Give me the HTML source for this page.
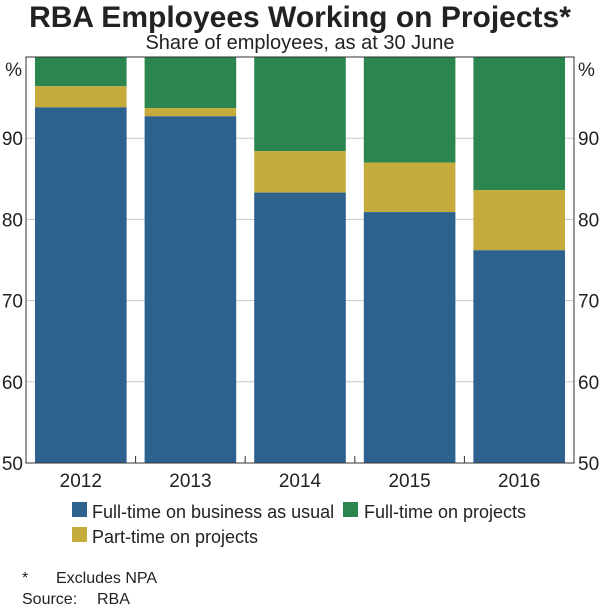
<!DOCTYPE html>
<html><head><meta charset="utf-8"><style>
body{margin:0;background:#fff;font-family:"Liberation Sans",Arial,sans-serif;}
svg text{font-family:"Liberation Sans",Arial,sans-serif;fill:#222;}
</style></head><body>
<svg id="c" width="600" height="606" xmlns="http://www.w3.org/2000/svg">
<text x="300" y="27" text-anchor="middle" font-size="30" font-weight="bold">RBA Employees Working on Projects*</text>
<text x="300" y="49" text-anchor="middle" font-size="20">Share of employees, as at 30 June</text>
<g id="grid"></g><g id="bars"></g><g id="axes"></g>
<g>
<rect x="72" y="502" width="15" height="15" fill="#2d628f"/>
<text x="92" y="518" font-size="18">Full-time on business as usual</text>
<rect x="343" y="502" width="15" height="15" fill="#2a864e"/>
<text x="364" y="518" font-size="18">Full-time on projects</text>
<rect x="72" y="527" width="15" height="15" fill="#c4ab3c"/>
<text x="92" y="543" font-size="18">Part-time on projects</text>
</g>
<text x="22" y="583" font-size="16">*</text>
<text x="56" y="583" font-size="16">Excludes NPA</text>
<text x="22" y="604" font-size="16">Source:</text>
<text x="97" y="604" font-size="16">RBA</text>
</svg>
<script>
const categories=["2012","2013","2014","2015","2016"];
const fullTimeBAU=[93.8,92.7,83.3,80.9,76.2];
const partTimeProjects=[2.6,1.0,5.1,6.1,7.4];
const yTicks=[50,60,70,80,90];
const L=26,R=574,T=57,B=463,yMin=50,yMax=100;
const NS="http://www.w3.org/2000/svg";
const y=v=>B-(v-yMin)/(yMax-yMin)*(B-T);
const bw=(R-L)/categories.length;
const x=i=>L+i*bw;
function mk(p,t,a){const e=document.createElementNS(NS,t);for(const k in a)e.setAttribute(k,a[k]);document.getElementById(p).appendChild(e);return e;}
yTicks.forEach(v=>{if(v>yMin){const g=mk('grid','line',{x1:L,x2:R,y1:y(v),y2:y(v),stroke:'#c8c8c8','stroke-width':1});

}
const a=mk('axes','text',{x:L-3,y:y(v)+7,'text-anchor':'end','font-size':19});a.textContent=v;


const b=mk('axes','text',{x:R+4,y:y(v)+7,'font-size':19});b.textContent=v;

});
const p1=mk('axes','text',{x:L-4,y:T+19,'text-anchor':'end','font-size':19});p1.textContent='%';


const p2=mk('axes','text',{x:R+4,y:T+19,'font-size':19});p2.textContent='%';


categories.forEach((c,i)=>{
const x0=x(i)+9,w=bw-18,top=fullTimeBAU[i]+partTimeProjects[i];
const g=mk('bars','rect',{x:x0,y:y(yMax),width:w,height:y(top)-y(yMax),fill:'#2a864e'});


const p=mk('bars','rect',{x:x0,y:y(top),width:w,height:y(fullTimeBAU[i])-y(top),fill:'#c4ab3c'});


const b=mk('bars','rect',{x:x0,y:y(fullTimeBAU[i]),width:w,height:B-y(fullTimeBAU[i]),fill:'#2d628f'});


const t=mk('axes','text',{x:x(i)+bw/2,y:B+24,'text-anchor':'middle','font-size':19});t.textContent=c;


if(i>0){const k=mk('axes','line',{x1:x(i),x2:x(i),y1:B,y2:B-7,stroke:'#333'});

}
});
const f=mk('axes','rect',{x:L,y:T,width:R-L,height:B-T,fill:'none',stroke:'#333','stroke-width':1});


</script>
</body></html>
